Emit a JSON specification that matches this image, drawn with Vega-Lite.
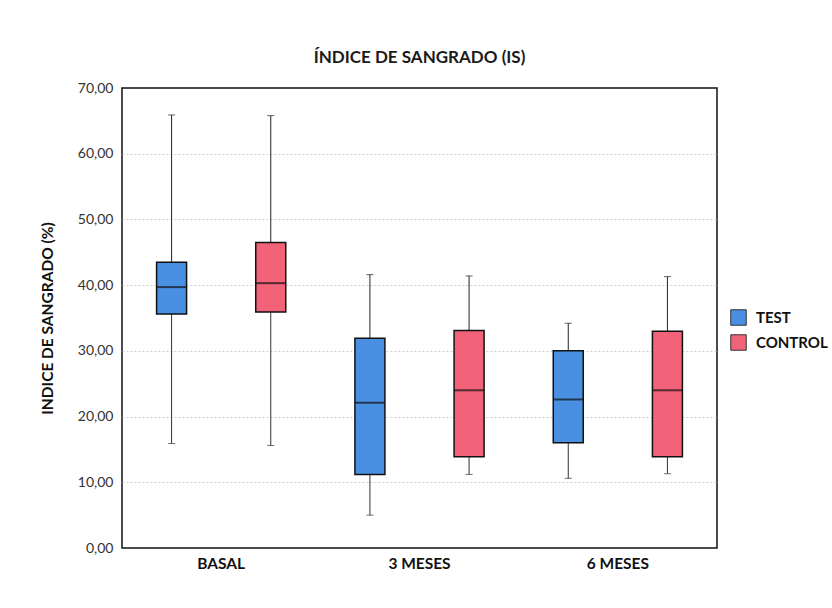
{
  "$schema": "https://vega.github.io/schema/vega-lite/v6.json",
  "width": 595,
  "height": 460,
  "autosize": "none",
  "padding": {"left": 122, "top": 88, "right": 115, "bottom": 60},
  "background": "white",
  "title": {"text": "ÍNDICE DE SANGRADO (IS)", "font": "Lato", "fontSize": 17, "fontWeight": "bold", "color": "#1a1a1a", "anchor": "middle", "offset": 14},
  "data": {"values": [
    {"periodo": "BASAL", "grupo": "TEST", "lower": 15.9, "q1": 35.6, "median": 39.7, "q3": 43.5, "upper": 65.9},
    {"periodo": "BASAL", "grupo": "CONTROL", "lower": 15.6, "q1": 35.9, "median": 40.3, "q3": 46.5, "upper": 65.8},
    {"periodo": "3 MESES", "grupo": "TEST", "lower": 5.0, "q1": 11.2, "median": 22.1, "q3": 31.9, "upper": 41.6},
    {"periodo": "3 MESES", "grupo": "CONTROL", "lower": 11.2, "q1": 13.9, "median": 24.0, "q3": 33.1, "upper": 41.4},
    {"periodo": "6 MESES", "grupo": "TEST", "lower": 10.6, "q1": 16.0, "median": 22.6, "q3": 30.0, "upper": 34.2},
    {"periodo": "6 MESES", "grupo": "CONTROL", "lower": 11.3, "q1": 13.9, "median": 24.0, "q3": 33.0, "upper": 41.3}
  ]},
  "encoding": {
    "x": {"field": "periodo", "type": "nominal", "sort": ["BASAL", "3 MESES", "6 MESES"],
      "scale": {"paddingInner": 0, "paddingOuter": 0},
      "axis": {"title": null, "labelAngle": 0, "labelFont": "Lato", "labelFontWeight": "bold", "labelFontSize": 15.5, "labelColor": "#111", "ticks": false, "domain": false, "labelPadding": 8}},
    "xOffset": {"field": "grupo", "type": "nominal", "sort": ["TEST", "CONTROL"], "scale": {"paddingInner": 0, "paddingOuter": 0}}
  },
  "layer": [
    {"mark": {"type": "rule", "color": "#333", "strokeWidth": 1},
      "encoding": {
        "y": {"field": "lower", "type": "quantitative", "scale": {"domain": [0, 70]},
          "axis": {"title": "INDICE DE SANGRADO (%)", "titleFont": "Lato", "titleFontSize": 15.5, "titleFontWeight": "bold", "titleColor": "#111", "titlePadding": 22,
            "values": [0, 10, 20, 30, 40, 50, 60, 70], "labelExpr": "replace(format(datum.value, '.2f'), '.', ',')",
            "labelFont": "Lato", "labelFontSize": 14, "labelColor": "#333", "labelPadding": 9, "ticks": false, "domain": false,
            "grid": true, "gridColor": "#cfcfcf", "gridDash": [2, 2], "gridWidth": 1,
            "gridOpacity": {"condition": {"test": "datum.value == 0 || datum.value == 70", "value": 0}, "value": 1}}},
        "y2": {"field": "q1"}}},
    {"mark": {"type": "rule", "color": "#222", "strokeWidth": 1},
      "encoding": {"y": {"field": "q3", "type": "quantitative"}, "y2": {"field": "upper"}}},
    {"mark": {"type": "bar", "width": 30, "stroke": "#111", "strokeWidth": 1.5},
      "encoding": {
        "y": {"field": "q1", "type": "quantitative"}, "y2": {"field": "q3"},
        "color": {"field": "grupo", "type": "nominal", "sort": ["TEST", "CONTROL"],
          "scale": {"domain": ["TEST", "CONTROL"], "range": ["#4A90E2", "#F2637A"]},
          "legend": {"orient": "none", "legendX": 608, "legendY": 221, "title": null, "symbolType": "square", "symbolSize": 240,
            "symbolStrokeColor": "#333", "symbolStrokeWidth": 1, "symbolFillOpacity": 1, "labelFont": "Lato", "labelFontWeight": "bold",
            "labelFontSize": 15, "labelColor": "#111", "labelOffset": 9, "rowPadding": 4}}}},
    {"mark": {"type": "tick", "color": "#111", "thickness": 2, "size": 30},
      "encoding": {"y": {"field": "median", "type": "quantitative"}}},
    {"mark": {"type": "tick", "color": "#333", "thickness": 1, "size": 7},
      "encoding": {"y": {"field": "lower", "type": "quantitative"}}},
    {"mark": {"type": "tick", "color": "#222", "thickness": 1, "size": 7},
      "encoding": {"y": {"field": "upper", "type": "quantitative"}}}
  ],
  "config": {"view": {"stroke": "#111", "strokeWidth": 1.5}}
}
